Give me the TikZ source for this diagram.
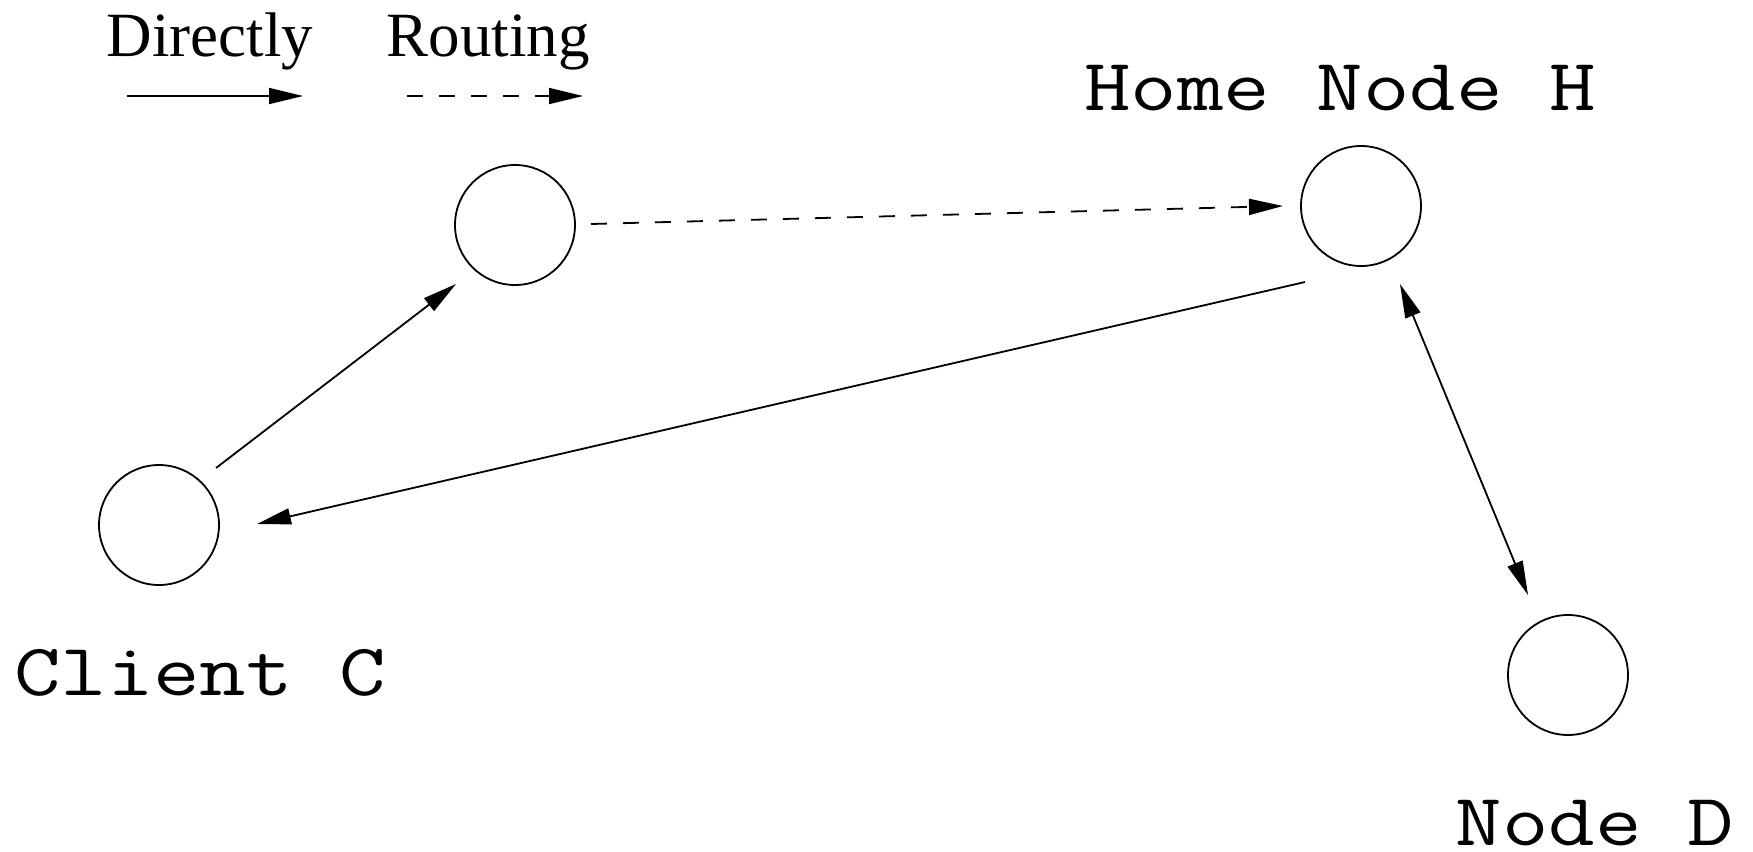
\documentclass[tikz,border=0pt]{standalone}
\usepackage{fontspec}
\setmainfont{Liberation Serif}
\usetikzlibrary{arrows.meta,calc}
\newcommand{\monolbl}[1]{\scalebox{1.22}[1]{\ttfamily\fontsize{37pt}{37pt}\selectfont #1}}
\tikzset{
  nd/.style={circle,draw,line width=0.9pt,minimum size=60pt,inner sep=0pt},
  conn/.style={line width=0.9pt,-{Triangle[length=17pt,width=8pt]}},
  bconn/.style={line width=0.9pt,{Triangle[length=17pt,width=8pt]}-{Triangle[length=17pt,width=8pt]}},
  dconn/.style={conn,dash pattern=on 8pt off 8pt},
  lbl/.style={anchor=base,inner sep=0pt},
  leg/.style={font=\fontsize{31.5pt}{32pt}\selectfont,anchor=base,inner sep=0pt}
}
\begin{document}
\begin{tikzpicture}[x=0.5pt,y=-0.5pt]
\useasboundingbox (0,0) rectangle (1753,852);
\fill[white] (0,0) rectangle (1753,852);
% legend
\node[leg] (tdir) at (210,56) {Directly};
\node[leg] (trou) at (488,56) {Routing};
\coordinate (l1s) at (127,96);
\coordinate (l1e) at (303,96);
\coordinate (l2s) at (407,96);
\coordinate (l2e) at (583,96);
\draw[conn] (l1s) -- (l1e);
\draw[dconn] (l2s) -- (l2e);
% nodes
\node[nd] (A) at (515,225) {};
\node[nd] (H) at (1361,206) {};
\node[nd] (C) at (159,525) {};
\node[nd] (D) at (1568,675) {};
% labels
\node[lbl] (tH) at (1340,110) {\monolbl{Home Node H}};
\node[lbl] (tC) at (200,695) {\monolbl{Client C}};
\node[lbl] (tD) at (1595,845) {\monolbl{Node D}};
% connectors
\draw[conn] ($(C)+(57,-57)$) -- ($(A)+(-59,59)$);
\draw[dconn] ($(A)+(76,-1)$) -- ($(H)+(-78,0)$);
\draw[conn] ($(H)+(-56,76)$) -- ($(C)+(98,-1)$);
\draw[bconn] ($(H)+(39,78)$) -- ($(D)+(-40,-80)$);
\end{tikzpicture}
\end{document}
